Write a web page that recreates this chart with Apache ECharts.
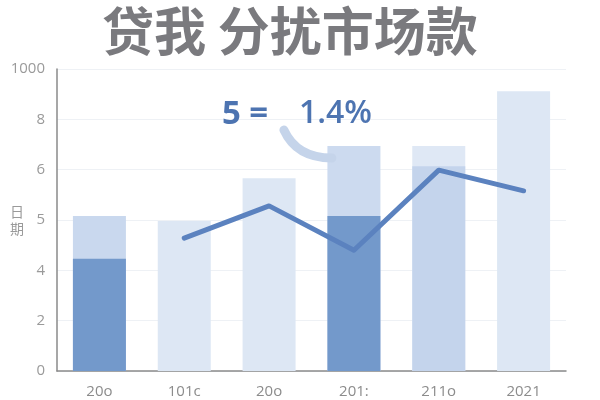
<!DOCTYPE html>
<html>
<head>
<meta charset="utf-8">
<script src="https://cdn.jsdelivr.net/npm/echarts@6/dist/echarts.min.js"></script>
<style>html,body{margin:0;padding:0;background:#fff}#c{width:600px;height:400px}</style>
</head>
<body>
<div id="c"></div>
<script>
// Data (values in axis position units; tick labels shown at each unit)
var categories = ['20o', '101c', '20o', '201:', '211o', '2021'];
var yTickLabels = ['0', '2', '4', '5', '6', '8', '1000'];
var totalValues = [3.08, 2.98, 3.83, 4.47, 4.47, 5.56];
var partValues = [2.23, null, null, 3.08, 4.07, null];
var lineValues = [null, 2.64, 3.28, 2.40, 3.99, 3.58];
var totalColors = ['#c9d8ee', '#dde7f4', '#dde7f4', '#ccdaef', '#dfe8f5', '#dde7f4'];
var partColors = ['#7399cb', null, null, '#7399cb', '#c4d4ec', null];
var titleText = '贷我 分扰市场款';
var yAxisName = '日\n期';
var noteLeft = '5 =';
var noteRight = '1.4%';

var chart = echarts.init(document.getElementById('c'));
var option = {
  backgroundColor: '#ffffff',
  animation: false,
  title: {
    text: titleText, left: 97, top: 0,
    textStyle: { fontSize: 52, fontWeight: 'bold', color: '#7a7a7e', fontFamily: 'Noto Sans CJK SC' }
  },
  grid: { left: 57, right: 34, top: 69, bottom: 29, containLabel: false, outerBoundsMode: 'none' },
  xAxis: {
    type: 'category', data: categories,
    axisLine: { lineStyle: { color: '#8a8a8a', width: 1.5 } },
    axisTick: { show: false },
    axisLabel: { color: '#8c8c8c', fontSize: 15, margin: 13, fontFamily: 'Open Sans' }
  },
  yAxis: {
    type: 'value', min: 0, max: 6, interval: 1,
    axisLine: { show: true, lineStyle: { color: '#8a8a8a', width: 1.5 } },
    axisTick: { show: false },
    splitLine: { lineStyle: { color: '#eef1f5', width: 1 } },
    axisLabel: {
      color: '#9a9a9a', fontSize: 15, margin: 12, fontFamily: 'Open Sans',
      formatter: function (v) { return yTickLabels[Math.round(v)]; }
    }
  },
  series: [
    {
      type: 'bar', barWidth: 53, barGap: '-100%',
      data: totalValues.map(function (v, i) { return { value: v, itemStyle: { color: totalColors[i] } }; })
    },
    {
      type: 'bar', barWidth: 53, barGap: '-100%',
      data: partValues.map(function (v, i) { return v == null ? null : { value: v, itemStyle: { color: partColors[i] } }; })
    },
    {
      type: 'line', data: lineValues, symbol: 'none', connectNulls: false,
      lineStyle: { color: '#5b82bf', width: 5, cap: 'round', join: 'round' }, z: 5
    }
  ]
};
chart.setOption(option);

// Annotation and axis name placed via the chart's scales
var p = chart.convertToPixel({ gridIndex: 0 }, [3, totalValues[3]]);
var mid = chart.convertToPixel({ gridIndex: 0 }, [0, 3]);
chart.setOption({
  graphic: [
    { type: 'text', x: 17, y: mid[1], z: 10,
      style: { text: yAxisName, font: '14px "Noto Sans CJK SC"', fill: '#9a9a9a', align: 'center', verticalAlign: 'middle', lineHeight: 17 } },
    { type: 'bezierCurve', z: 3,
      shape: { x1: p[0] - 70, y1: p[1] - 16, cpx1: p[0] - 60, cpy1: p[1] + 6, cpx2: p[0] - 40, cpy2: p[1] + 12, x2: p[0] - 22, y2: p[1] + 12 },
      style: { stroke: '#c5d4ea', lineWidth: 9, fill: null, lineCap: 'round' } },
    { type: 'text', left: p[0] - 132, top: p[1] - 48, z: 10,
      style: { text: noteLeft, font: 'bold 33px "Open Sans"', fill: '#4d74b1' } },
    { type: 'text', left: p[0] - 55, top: p[1] - 48, z: 10,
      style: { text: noteRight, font: '600 32px "Open Sans"', fill: '#4d74b1' } }
  ]
});
</script>
</body>
</html>
